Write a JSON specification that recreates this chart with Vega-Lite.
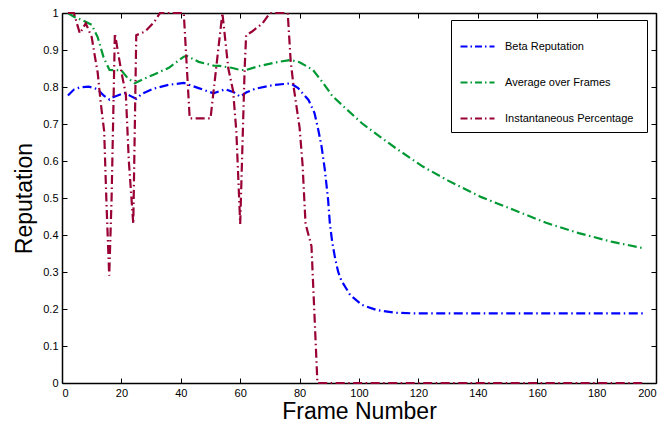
{
  "$schema": "https://vega.github.io/schema/vega-lite/v6.json",
  "width": 594,
  "height": 370,
  "autosize": {"type": "none"},
  "padding": {"left": 62, "top": 13, "right": 11, "bottom": 41},
  "background": "white",
  "config": {
    "view": {"stroke": null},
    "font": "Liberation Sans",
    "axis": {
      "grid": false,
      "domainColor": "black",
      "domainWidth": 1.5,
      "tickColor": "black",
      "tickWidth": 1,
      "tickSize": -5,
      "labelPadding": 9,
      "labelFontSize": 11,
      "labelColor": "black",
      "labelFont": "Liberation Sans",
      "titleFont": "Liberation Sans",
      "titleFontSize": 23,
      "titleFontWeight": "normal",
      "titleColor": "black"
    },
    "legend": {
      "labelFont": "Liberation Sans",
      "labelFontSize": 11,
      "labelColor": "black"
    }
  },
  "data": {
    "values": [
      {"frame": 2, "reputation": 0.777, "series": "Beta Reputation"},
      {"frame": 4, "reputation": 0.793, "series": "Beta Reputation"},
      {"frame": 6, "reputation": 0.799, "series": "Beta Reputation"},
      {"frame": 9, "reputation": 0.801, "series": "Beta Reputation"},
      {"frame": 12, "reputation": 0.794, "series": "Beta Reputation"},
      {"frame": 14, "reputation": 0.777, "series": "Beta Reputation"},
      {"frame": 16, "reputation": 0.766, "series": "Beta Reputation"},
      {"frame": 17, "reputation": 0.772, "series": "Beta Reputation"},
      {"frame": 21, "reputation": 0.784, "series": "Beta Reputation"},
      {"frame": 23, "reputation": 0.776, "series": "Beta Reputation"},
      {"frame": 25, "reputation": 0.768, "series": "Beta Reputation"},
      {"frame": 27, "reputation": 0.782, "series": "Beta Reputation"},
      {"frame": 31, "reputation": 0.796, "series": "Beta Reputation"},
      {"frame": 36, "reputation": 0.806, "series": "Beta Reputation"},
      {"frame": 41, "reputation": 0.811, "series": "Beta Reputation"},
      {"frame": 46, "reputation": 0.797, "series": "Beta Reputation"},
      {"frame": 51, "reputation": 0.783, "series": "Beta Reputation"},
      {"frame": 55, "reputation": 0.794, "series": "Beta Reputation"},
      {"frame": 58, "reputation": 0.785, "series": "Beta Reputation"},
      {"frame": 60, "reputation": 0.774, "series": "Beta Reputation"},
      {"frame": 62, "reputation": 0.785, "series": "Beta Reputation"},
      {"frame": 65, "reputation": 0.795, "series": "Beta Reputation"},
      {"frame": 71, "reputation": 0.805, "series": "Beta Reputation"},
      {"frame": 77, "reputation": 0.81, "series": "Beta Reputation"},
      {"frame": 79.5, "reputation": 0.797, "series": "Beta Reputation"},
      {"frame": 83, "reputation": 0.765, "series": "Beta Reputation"},
      {"frame": 85, "reputation": 0.73, "series": "Beta Reputation"},
      {"frame": 86.3, "reputation": 0.684, "series": "Beta Reputation"},
      {"frame": 87.4, "reputation": 0.639, "series": "Beta Reputation"},
      {"frame": 88.5, "reputation": 0.576, "series": "Beta Reputation"},
      {"frame": 89.6, "reputation": 0.495, "series": "Beta Reputation"},
      {"frame": 90.2, "reputation": 0.43, "series": "Beta Reputation"},
      {"frame": 91, "reputation": 0.38, "series": "Beta Reputation"},
      {"frame": 92, "reputation": 0.335, "series": "Beta Reputation"},
      {"frame": 93, "reputation": 0.3, "series": "Beta Reputation"},
      {"frame": 94, "reputation": 0.278, "series": "Beta Reputation"},
      {"frame": 97, "reputation": 0.238, "series": "Beta Reputation"},
      {"frame": 101, "reputation": 0.211, "series": "Beta Reputation"},
      {"frame": 106, "reputation": 0.197, "series": "Beta Reputation"},
      {"frame": 112, "reputation": 0.19, "series": "Beta Reputation"},
      {"frame": 119, "reputation": 0.188, "series": "Beta Reputation"},
      {"frame": 196, "reputation": 0.188, "series": "Beta Reputation"},

      {"frame": 2, "reputation": 1.0, "series": "Average over Frames"},
      {"frame": 4, "reputation": 0.99, "series": "Average over Frames"},
      {"frame": 7, "reputation": 0.98, "series": "Average over Frames"},
      {"frame": 10, "reputation": 0.968, "series": "Average over Frames"},
      {"frame": 12, "reputation": 0.935, "series": "Average over Frames"},
      {"frame": 14, "reputation": 0.88, "series": "Average over Frames"},
      {"frame": 16, "reputation": 0.846, "series": "Average over Frames"},
      {"frame": 20, "reputation": 0.845, "series": "Average over Frames"},
      {"frame": 22, "reputation": 0.825, "series": "Average over Frames"},
      {"frame": 24.5, "reputation": 0.81, "series": "Average over Frames"},
      {"frame": 27, "reputation": 0.82, "series": "Average over Frames"},
      {"frame": 31, "reputation": 0.834, "series": "Average over Frames"},
      {"frame": 36, "reputation": 0.852, "series": "Average over Frames"},
      {"frame": 41, "reputation": 0.882, "series": "Average over Frames"},
      {"frame": 42, "reputation": 0.884, "series": "Average over Frames"},
      {"frame": 46, "reputation": 0.868, "series": "Average over Frames"},
      {"frame": 51, "reputation": 0.858, "series": "Average over Frames"},
      {"frame": 53, "reputation": 0.857, "series": "Average over Frames"},
      {"frame": 57, "reputation": 0.852, "series": "Average over Frames"},
      {"frame": 60, "reputation": 0.846, "series": "Average over Frames"},
      {"frame": 62, "reputation": 0.846, "series": "Average over Frames"},
      {"frame": 66, "reputation": 0.856, "series": "Average over Frames"},
      {"frame": 73, "reputation": 0.868, "series": "Average over Frames"},
      {"frame": 77, "reputation": 0.873, "series": "Average over Frames"},
      {"frame": 80, "reputation": 0.867, "series": "Average over Frames"},
      {"frame": 84.5, "reputation": 0.846, "series": "Average over Frames"},
      {"frame": 88, "reputation": 0.81, "series": "Average over Frames"},
      {"frame": 91, "reputation": 0.776, "series": "Average over Frames"},
      {"frame": 95, "reputation": 0.746, "series": "Average over Frames"},
      {"frame": 101, "reputation": 0.702, "series": "Average over Frames"},
      {"frame": 107, "reputation": 0.666, "series": "Average over Frames"},
      {"frame": 112.5, "reputation": 0.634, "series": "Average over Frames"},
      {"frame": 121.5, "reputation": 0.585, "series": "Average over Frames"},
      {"frame": 130, "reputation": 0.547, "series": "Average over Frames"},
      {"frame": 141, "reputation": 0.503, "series": "Average over Frames"},
      {"frame": 152, "reputation": 0.468, "series": "Average over Frames"},
      {"frame": 163, "reputation": 0.433, "series": "Average over Frames"},
      {"frame": 174, "reputation": 0.405, "series": "Average over Frames"},
      {"frame": 185, "reputation": 0.382, "series": "Average over Frames"},
      {"frame": 196, "reputation": 0.364, "series": "Average over Frames"},

      {"frame": 2, "reputation": 1.0, "series": "Instantaneous Percentage"},
      {"frame": 4, "reputation": 1.0, "series": "Instantaneous Percentage"},
      {"frame": 6, "reputation": 0.945, "series": "Instantaneous Percentage"},
      {"frame": 8, "reputation": 0.972, "series": "Instantaneous Percentage"},
      {"frame": 10, "reputation": 0.935, "series": "Instantaneous Percentage"},
      {"frame": 11, "reputation": 0.886, "series": "Instantaneous Percentage"},
      {"frame": 12, "reputation": 0.84, "series": "Instantaneous Percentage"},
      {"frame": 13, "reputation": 0.76, "series": "Instantaneous Percentage"},
      {"frame": 14.2, "reputation": 0.68, "series": "Instantaneous Percentage"},
      {"frame": 15, "reputation": 0.48, "series": "Instantaneous Percentage"},
      {"frame": 15.9, "reputation": 0.29, "series": "Instantaneous Percentage"},
      {"frame": 16.7, "reputation": 0.5, "series": "Instantaneous Percentage"},
      {"frame": 17.2, "reputation": 0.7, "series": "Instantaneous Percentage"},
      {"frame": 17.8, "reputation": 0.945, "series": "Instantaneous Percentage"},
      {"frame": 20, "reputation": 0.84, "series": "Instantaneous Percentage"},
      {"frame": 21.5, "reputation": 0.78, "series": "Instantaneous Percentage"},
      {"frame": 22.5, "reputation": 0.6, "series": "Instantaneous Percentage"},
      {"frame": 24, "reputation": 0.43, "series": "Instantaneous Percentage"},
      {"frame": 25, "reputation": 0.94, "series": "Instantaneous Percentage"},
      {"frame": 28, "reputation": 0.95, "series": "Instantaneous Percentage"},
      {"frame": 31, "reputation": 0.975, "series": "Instantaneous Percentage"},
      {"frame": 33, "reputation": 1.0, "series": "Instantaneous Percentage"},
      {"frame": 41, "reputation": 1.0, "series": "Instantaneous Percentage"},
      {"frame": 43, "reputation": 0.715, "series": "Instantaneous Percentage"},
      {"frame": 50, "reputation": 0.715, "series": "Instantaneous Percentage"},
      {"frame": 54, "reputation": 1.0, "series": "Instantaneous Percentage"},
      {"frame": 56, "reputation": 0.85, "series": "Instantaneous Percentage"},
      {"frame": 57.6, "reputation": 0.79, "series": "Instantaneous Percentage"},
      {"frame": 58.7, "reputation": 0.68, "series": "Instantaneous Percentage"},
      {"frame": 60, "reputation": 0.43, "series": "Instantaneous Percentage"},
      {"frame": 61.5, "reputation": 0.85, "series": "Instantaneous Percentage"},
      {"frame": 62, "reputation": 0.94, "series": "Instantaneous Percentage"},
      {"frame": 64, "reputation": 0.95, "series": "Instantaneous Percentage"},
      {"frame": 67.5, "reputation": 0.972, "series": "Instantaneous Percentage"},
      {"frame": 70, "reputation": 1.0, "series": "Instantaneous Percentage"},
      {"frame": 76, "reputation": 1.0, "series": "Instantaneous Percentage"},
      {"frame": 77, "reputation": 0.87, "series": "Instantaneous Percentage"},
      {"frame": 78, "reputation": 0.8, "series": "Instantaneous Percentage"},
      {"frame": 80, "reputation": 0.69, "series": "Instantaneous Percentage"},
      {"frame": 81, "reputation": 0.59, "series": "Instantaneous Percentage"},
      {"frame": 82, "reputation": 0.43, "series": "Instantaneous Percentage"},
      {"frame": 84, "reputation": 0.37, "series": "Instantaneous Percentage"},
      {"frame": 86, "reputation": 0.0, "series": "Instantaneous Percentage"},
      {"frame": 196, "reputation": 0.0, "series": "Instantaneous Percentage"}
    ]
  },
  "resolve": {"axis": {"x": "independent", "y": "independent"}},
  "layer": [
    {
      "mark": {"type": "line", "strokeWidth": 2.2, "strokeDash": [9, 3.5, 1.5, 3.5]},
      "encoding": {
        "x": {
          "field": "frame", "type": "quantitative",
          "scale": {"domain": [0, 200], "nice": false, "zero": false},
          "axis": {"orient": "bottom", "title": "Frame Number", "values": [0, 20, 40, 60, 80, 100, 120, 140, 160, 180, 200], "titlePadding": 2}
        },
        "y": {
          "field": "reputation", "type": "quantitative",
          "scale": {"domain": [0, 1], "nice": false},
          "axis": {"orient": "left", "title": "Reputation", "values": [0, 0.1, 0.2, 0.3, 0.4, 0.5, 0.6, 0.7, 0.8, 0.9, 1], "format": "~g", "titlePadding": 6}
        },
        "color": {
          "field": "series", "type": "nominal",
          "scale": {
            "domain": ["Beta Reputation", "Average over Frames", "Instantaneous Percentage"],
            "range": ["#0000FF", "#009933", "#990033"]
          },
          "legend": {
            "orient": "none",
            "legendX": 389,
            "legendY": 7,
            "title": "\u00a0",
            "titleOrient": "right",
            "titlePadding": 6,
            "titleFontSize": 11,
            "symbolType": "stroke",
            "symbolSize": 1156,
            "symbolStrokeWidth": 2.2,
            "symbolDash": [7, 3, 1.5, 3],
            "labelOffset": 9,
            "rowPadding": 12,
            "padding": 8,
            "fillColor": "white",
            "strokeColor": "black"
          }
        }
      }
    },
    {
      "mark": {"type": "line", "opacity": 0},
      "encoding": {
        "x": {
          "field": "frame", "type": "quantitative",
          "axis": {"orient": "top", "title": null, "labels": false, "values": [0, 20, 40, 60, 80, 100, 120, 140, 160, 180, 200]}
        },
        "y": {
          "field": "reputation", "type": "quantitative",
          "axis": {"orient": "right", "title": null, "labels": false, "values": [0, 0.1, 0.2, 0.3, 0.4, 0.5, 0.6, 0.7, 0.8, 0.9, 1]}
        },
        "detail": {"field": "series", "type": "nominal"}
      }
    }
  ]
}
